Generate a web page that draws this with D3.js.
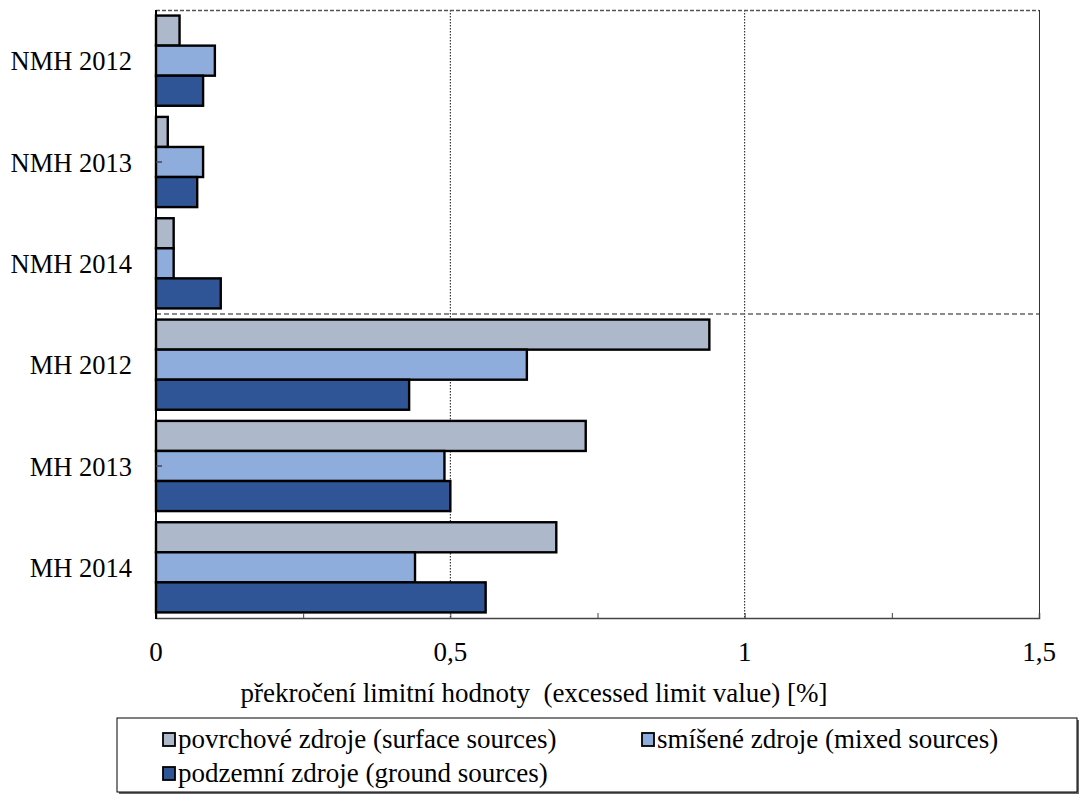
<!DOCTYPE html>
<html><head><meta charset="utf-8">
<script src="https://cdn.jsdelivr.net/npm/d3@7"></script>
<style>body{margin:0;background:#fff}svg{display:block}text{font-family:"Liberation Serif","Times New Roman",serif;fill:#000}</style>
</head><body><svg id="c" width="1081" height="796"></svg>
<script>
const categories = ["NMH 2012","NMH 2013","NMH 2014","MH 2012","MH 2013","MH 2014"];
const seriesNames = ["povrchové zdroje (surface sources)","smíšené zdroje (mixed sources)","podzemní zdroje (ground sources)"];
const surface = [0.04,0.02,0.03,0.94,0.73,0.68];
const mixed   = [0.10,0.08,0.03,0.63,0.49,0.44];
const ground  = [0.08,0.07,0.11,0.43,0.50,0.56];
const seriesColors = ["#adb9ca","#8eacdc","#2f5597"];
const xTicks = [0,0.5,1,1.5];
const xTickLabels = ["0","0,5","1","1,5"];
const minorTicks = [0.25,0.5,0.75,1,1.25];
const gridVals = [0.5,1];
const axisTitle = "překročení limitní hodnoty  (excessed limit value) [%]";

const svg = d3.select("#c");
const L=156,R=1039,T=10,B=618;
const x = d3.scaleLinear().domain([0,1.5]).range([L,R]);
const y = d3.scaleBand().domain(categories).range([T,B]).paddingInner(0.11).paddingOuter(0.055);
const ys = d3.scaleBand().domain(d3.range(3)).range([0,y.bandwidth()]);
const values=[surface,mixed,ground];

// gridlines
svg.selectAll(".grid").data(gridVals).join("line")
  .attr("x1",d=>x(d)).attr("x2",d=>x(d)).attr("y1",T).attr("y2",B)
  .attr("stroke","#111").attr("stroke-width",1).attr("stroke-dasharray","1.5,1.5");
// top border dashed
svg.append("line").attr("x1",L).attr("x2",R).attr("y1",T+0.5).attr("y2",T+0.5)
  .attr("stroke","#555").attr("stroke-width",1.3).attr("stroke-dasharray","4,2");
// right border
svg.append("line").attr("x1",R+0.5).attr("x2",R+0.5).attr("y1",T).attr("y2",B)
  .attr("stroke","#333").attr("stroke-width",1);
// separator between NMH and MH
const sepY = (y(categories[2])+y.bandwidth()+y(categories[3]))/2;
svg.append("line").attr("x1",L).attr("x2",R).attr("y1",sepY).attr("y2",sepY)
  .attr("stroke","#666").attr("stroke-width",1.3).attr("stroke-dasharray","5,3");

// bars
const rows=[];
categories.forEach((c,i)=>values.forEach((v,s)=>rows.push({c,s,v:v[i]})));
svg.selectAll(".bar").data(rows).join("rect")
  .attr("x",x(0)).attr("y",d=>y(d.c)+ys(d.s)).attr("width",d=>x(d.v)-x(0)).attr("height",ys.bandwidth())
  .attr("fill",d=>seriesColors[d.s]).attr("stroke","#000").attr("stroke-width",2.4);

// x axis
const xa = svg.append("g").attr("transform",`translate(0,${B})`)
  .call(d3.axisBottom(x).tickValues(minorTicks).tickSize(-5).tickFormat(""));
xa.select(".domain").attr("stroke","#444").attr("stroke-width",1.5);
xa.selectAll(".tick line").attr("stroke","#444");
svg.selectAll(".xl").data(xTicks).join("text")
  .attr("x",d=>x(d)).attr("y",661).attr("text-anchor","middle").attr("font-size",27)
  .text((d,i)=>xTickLabels[i]);
// y axis
svg.append("line").attr("x1",L).attr("x2",L).attr("y1",T).attr("y2",B+1).attr("stroke","#000").attr("stroke-width",2);
svg.selectAll(".yt").data([categories[1],categories[4]]).join("line")
  .attr("x1",L).attr("x2",L+6).attr("y1",d=>y(d)+y.bandwidth()/2).attr("y2",d=>y(d)+y.bandwidth()/2)
  .attr("stroke","#445").attr("stroke-width",1.5);
svg.selectAll(".yl").data(categories).join("text")
  .attr("x",132).attr("y",d=>y(d)+y.bandwidth()/2+9.5).attr("text-anchor","end").attr("font-size",26.5)
  .text(d=>d);
// axis title
svg.append("text").attr("x",534).attr("y",702).attr("text-anchor","middle").attr("font-size",27)
  .style("white-space","pre").attr("xml:space","preserve").text(axisTitle);

// legend
const lg = svg.append("g");
lg.append("rect").attr("x",119).attr("y",720).attr("width",960).attr("height",74).attr("fill","#666");
lg.append("rect").attr("x",117).attr("y",718).attr("width",960).attr("height",74).attr("fill","#fff").attr("stroke","#000").attr("stroke-width",1);
const lpos=[[163,748],[642,748],[163,782]];
seriesNames.forEach((n,i)=>{
  const [lx,ly]=lpos[i];
  lg.append("rect").attr("x",lx).attr("y",ly-15).attr("width",12).attr("height",13)
    .attr("fill",seriesColors[i]).attr("stroke","#000").attr("stroke-width",1.8);
  lg.append("text").attr("x",lx+15).attr("y",ly).attr("font-size",27).text(n);
});
</script></body></html>
